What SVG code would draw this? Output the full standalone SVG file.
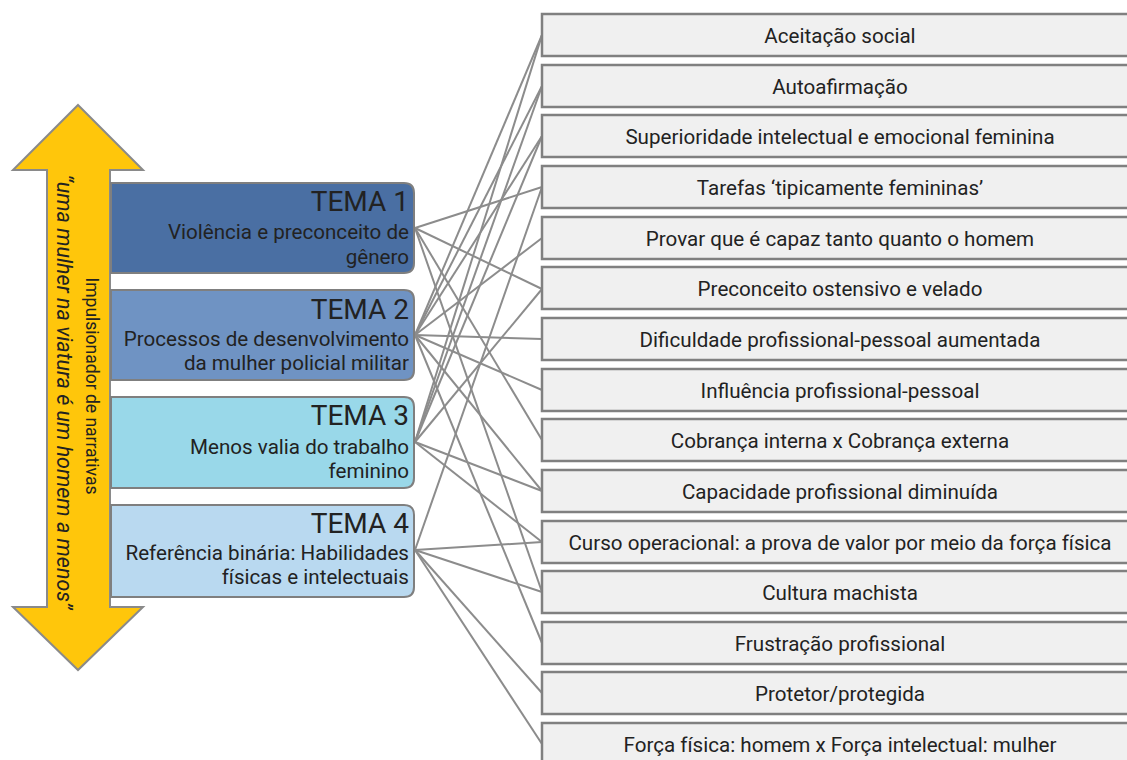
<svg xmlns="http://www.w3.org/2000/svg" width="1127" height="760" viewBox="0 0 1127 760">
<style>
.bg{fill:#ffffff}
.arrow{fill:#FFC60B;stroke:#8a8a8a;stroke-width:2}
.theme{stroke:#7f7f7f;stroke-width:2}
.tt{font-family:Roboto,"Liberation Sans",sans-serif;font-size:28px;fill:#222;text-anchor:end}
.ts{font-family:Roboto,"Liberation Sans",sans-serif;font-size:20.6px;fill:#222;text-anchor:end}
.cat{fill:#f0f0f0;stroke:#808080;stroke-width:2.5}
.ct{font-family:Roboto,"Liberation Sans",sans-serif;font-size:20.6px;fill:#222;text-anchor:middle}
.conn line{stroke:#8c8c8c;stroke-width:2}
.ar1{font-family:Roboto,"Liberation Sans",sans-serif;font-size:17.5px;fill:#222;text-anchor:middle}
.ar2{font-family:Roboto,"Liberation Sans",sans-serif;font-size:21.5px;font-style:italic;fill:#222;text-anchor:middle}
</style>
<rect class="bg" x="0" y="0" width="1127" height="760"/>
<g id="connectors" class="conn">
<line x1="415" y1="228" x2="542" y2="187"/>
<line x1="415" y1="228" x2="542" y2="289"/>
<line x1="415" y1="228" x2="542" y2="440"/>
<line x1="415" y1="228" x2="542" y2="592"/>
<line x1="415" y1="335" x2="542" y2="35"/>
<line x1="415" y1="335" x2="542" y2="86"/>
<line x1="415" y1="335" x2="542" y2="136"/>
<line x1="415" y1="335" x2="542" y2="238"/>
<line x1="415" y1="335" x2="542" y2="339"/>
<line x1="415" y1="335" x2="542" y2="390"/>
<line x1="415" y1="335" x2="542" y2="491"/>
<line x1="415" y1="335" x2="542" y2="643"/>
<line x1="415" y1="442" x2="542" y2="35"/>
<line x1="415" y1="442" x2="542" y2="86"/>
<line x1="415" y1="442" x2="542" y2="136"/>
<line x1="415" y1="442" x2="542" y2="289"/>
<line x1="415" y1="442" x2="542" y2="491"/>
<line x1="415" y1="442" x2="542" y2="542"/>
<line x1="415" y1="550" x2="542" y2="187"/>
<line x1="415" y1="550" x2="542" y2="542"/>
<line x1="415" y1="550" x2="542" y2="592"/>
<line x1="415" y1="550" x2="542" y2="693"/>
<line x1="415" y1="550" x2="542" y2="744"/>
</g>
<g id="arrow">
<polygon class="arrow" points="78,105 143,170 110,170 110,607 143,607 78,670 13,607 47,607 47,170 13,170"/>
<text class="ar1" transform="translate(86,386) rotate(90)">Impulsionador de narrativas</text>
<text class="ar2" transform="translate(57,392) rotate(90)">“uma mulher na viatura é um homem a menos”</text>
</g>
<g id="tema1">
<path class="theme" fill="#4A6FA3" d="M111,183 H404 Q414,183 414,193 V263 Q414,273 404,273 H111 Z"/>
<text class="tt" x="409" y="211">TEMA 1</text>
<text class="ts" x="409" y="239">Violência e preconceito de</text>
<text class="ts" x="409" y="264">gênero</text>
</g>
<g id="tema2">
<path class="theme" fill="#6F93C3" d="M111,290 H404 Q414,290 414,300 V370 Q414,380 404,380 H111 Z"/>
<text class="tt" x="409" y="319">TEMA 2</text>
<text class="ts" x="409" y="346">Processos de desenvolvimento</text>
<text class="ts" x="409" y="370">da mulher policial militar</text>
</g>
<g id="tema3">
<path class="theme" fill="#99D8E9" d="M111,397 H404 Q414,397 414,407 V478 Q414,488 404,488 H111 Z"/>
<text class="tt" x="409" y="425">TEMA 3</text>
<text class="ts" x="409" y="454">Menos valia do trabalho</text>
<text class="ts" x="409" y="478">feminino</text>
</g>
<g id="tema4">
<path class="theme" fill="#B9D9F0" d="M111,505 H404 Q414,505 414,515 V587 Q414,597 404,597 H111 Z"/>
<text class="tt" x="409" y="533">TEMA 4</text>
<text class="ts" x="409" y="560">Referência binária: Habilidades</text>
<text class="ts" x="409" y="584">físicas e intelectuais</text>
</g>
<g id="c1"><rect class="cat" x="542" y="14" width="600" height="42"/><text class="ct" x="840" y="43">Aceitação social</text></g>
<g id="c2"><rect class="cat" x="542" y="65" width="600" height="42"/><text class="ct" x="840" y="94">Autoafirmação</text></g>
<g id="c3"><rect class="cat" x="542" y="115" width="600" height="42"/><text class="ct" x="840" y="144">Superioridade intelectual e emocional feminina</text></g>
<g id="c4"><rect class="cat" x="542" y="166" width="600" height="42"/><text class="ct" x="840" y="195">Tarefas ‘tipicamente femininas’</text></g>
<g id="c5"><rect class="cat" x="542" y="217" width="600" height="42"/><text class="ct" x="840" y="246">Provar que é capaz tanto quanto o homem</text></g>
<g id="c6"><rect class="cat" x="542" y="267" width="600" height="42"/><text class="ct" x="840" y="296">Preconceito ostensivo e velado</text></g>
<g id="c7"><rect class="cat" x="542" y="318" width="600" height="42"/><text class="ct" x="840" y="347">Dificuldade profissional-pessoal aumentada</text></g>
<g id="c8"><rect class="cat" x="542" y="369" width="600" height="42"/><text class="ct" x="840" y="398">Influência profissional-pessoal</text></g>
<g id="c9"><rect class="cat" x="542" y="419" width="600" height="42"/><text class="ct" x="840" y="448">Cobrança interna x Cobrança externa</text></g>
<g id="c10"><rect class="cat" x="542" y="470" width="600" height="42"/><text class="ct" x="840" y="499">Capacidade profissional diminuída</text></g>
<g id="c11"><rect class="cat" x="542" y="521" width="600" height="42"/><text class="ct" x="840" y="550">Curso operacional: a prova de valor por meio da força física</text></g>
<g id="c12"><rect class="cat" x="542" y="571" width="600" height="42"/><text class="ct" x="840" y="600">Cultura machista</text></g>
<g id="c13"><rect class="cat" x="542" y="622" width="600" height="42"/><text class="ct" x="840" y="651">Frustração profissional</text></g>
<g id="c14"><rect class="cat" x="542" y="672" width="600" height="42"/><text class="ct" x="840" y="701">Protetor/protegida</text></g>
<g id="c15"><rect class="cat" x="542" y="723" width="600" height="42"/><text class="ct" x="840" y="752">Força física: homem x Força intelectual: mulher</text></g>
</svg>
